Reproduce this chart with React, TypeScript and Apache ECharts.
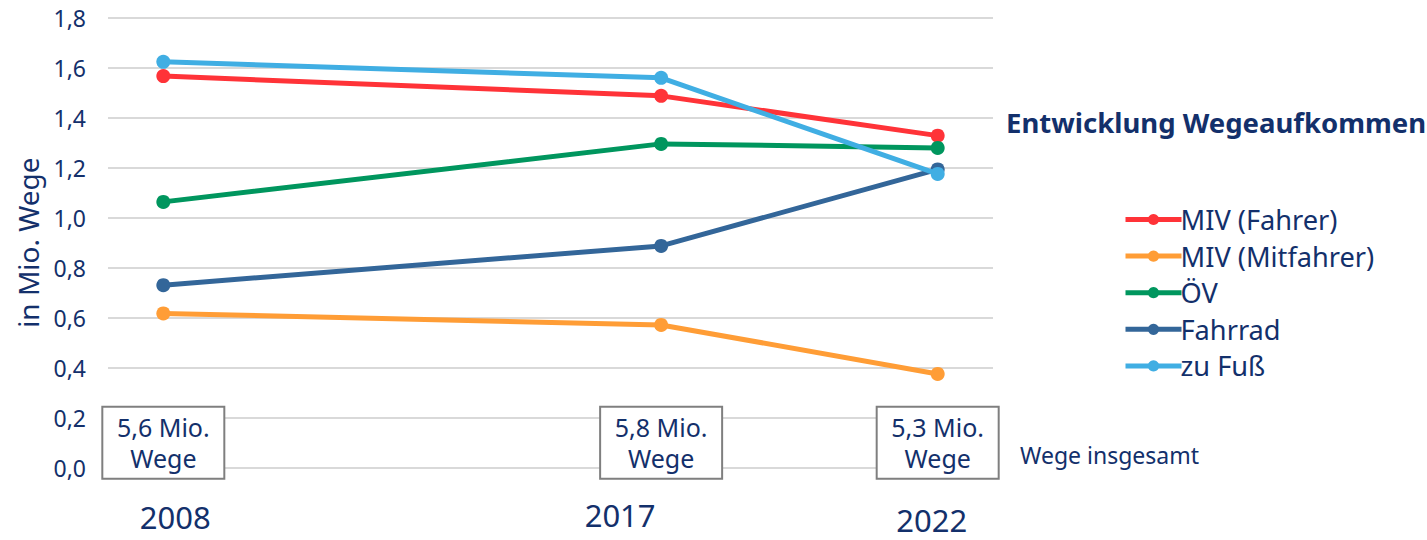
import React, { useEffect, useRef } from "react";
import * as echarts from "echarts";

const years = [2008, 2017, 2022];
const seriesNames = ["MIV (Fahrer)", "MIV (Mitfahrer)", "ÖV", "Fahrrad", "zu Fuß"];
const mivFahrer = [1.566, 1.487, 1.328];
const mivMitfahrer = [0.617, 0.571, 0.375];
const oev = [1.063, 1.295, 1.279];
const fahrrad = [0.730, 0.887, 1.193];
const zuFuss = [1.623, 1.559, 1.175];
const totals = ["5,6 Mio.\nWege", "5,8 Mio.\nWege", "5,3 Mio.\nWege"];
const yTicks = [0, 0.2, 0.4, 0.6, 0.8, 1.0, 1.2, 1.4, 1.6, 1.8];
const colors = ["#FF3338", "#FF9D36", "#00965E", "#336699", "#40AEE3"];

const NAVY = "#13306B";
const FONT = "Noto Sans";

export default function App() {
  const ref = useRef<HTMLDivElement>(null);
  useEffect(() => {
    if (!ref.current) return;
    const chart = echarts.init(ref.current, null, { renderer: "svg" });
    const values = [mivFahrer, mivMitfahrer, oev, fahrrad, zuFuss];
    const lineSeries = seriesNames.map((name, i) => ({
      name,
      type: "line",
      data: years.map((y, j) => [y, values[i][j]]),
      color: colors[i],
      lineStyle: { width: 5, color: colors[i] },
      itemStyle: { color: colors[i] },
      symbol: "circle",
      symbolSize: 14,
      showSymbol: true,
      z: 3 + i,
    }));
    const yearStyle = { fontSize: 31, color: NAVY, fontFamily: FONT, lineHeight: 36 };
    const yearRich: any = {
      y0: { ...yearStyle, padding: [5, 0, 0, 24] },
      y1: { ...yearStyle, padding: [0, 82, 0, 0] },
      y2: { ...yearStyle, padding: [11, 12, 0, 0] },
    };
    chart.setOption({
      animation: false,
      textStyle: { fontFamily: FONT },
      title: {
        text: "Entwicklung Wegeaufkommen",
        left: 1001,
        top: 103,
        textStyle: { fontSize: 27.5, fontWeight: "bold", color: NAVY, fontFamily: FONT },
      },
      legend: {
        data: seriesNames,
        orient: "vertical",
        left: 1118,
        top: 198,
        itemWidth: 56,
        itemHeight: 14,
        itemGap: 3.6,
        lineStyle: { width: 5 },
        textStyle: { fontSize: 27.2, color: NAVY, fontFamily: FONT, lineHeight: 33, padding: [0, 0, 0, -6] },
      },
      grid: { left: 108, right: 434, top: 17.6, bottom: 72.3, outerBoundsMode: "none", containLabel: false },
      xAxis: {
        type: "value",
        min: 2007,
        max: 2023,
        axisLine: { show: false },
        axisTick: { show: false },
        splitLine: { show: false },
        axisLabel: {
          customValues: years,
          margin: 29,
          formatter: (v: number) => {
            const i = years.indexOf(v);
            return i >= 0 ? `{y${i}|${v}}` : "";
          },
          rich: yearRich,
        },
      },
      yAxis: {
        type: "value",
        min: 0,
        max: 1.8,
        interval: 0.2,
        name: "in Mio. Wege",
        nameLocation: "middle",
        nameGap: 66,
        nameTextStyle: { fontSize: 28, color: NAVY, fontFamily: FONT },
        axisLine: { show: false },
        axisTick: { show: false },
        splitLine: { lineStyle: { color: "#D9D9D9", width: 2 } },
        axisLabel: {
          margin: 22,
          fontSize: 23,
          color: NAVY,
          fontFamily: FONT,
          formatter: (v: number) => {
            const t = yTicks.find((k) => Math.abs(k - v) < 1e-6);
            return (t ?? v).toFixed(1).replace(".", ",");
          },
        },
      },
      graphic: [
        {
          type: "text",
          left: 1020,
          top: 443,
          style: { text: "Wege insgesamt", fontSize: 23, fill: NAVY, fontFamily: FONT },
        },
      ],
      series: [
        ...lineSeries,
        {
          name: "totals",
          type: "scatter",
          data: years.map((y) => [y, 0.1]),
          symbolSize: 0,
          silent: true,
          z: 10,
          itemStyle: { color: "transparent", opacity: 1 },
          emphasis: { disabled: true },
          label: {
            show: true,
            position: "inside",
            formatter: (p: any) => totals[p.dataIndex],
            fontSize: 25,
            lineHeight: 31,
            color: NAVY,
            opacity: 1,
            fontFamily: FONT,
            textBorderWidth: 0,
            textBorderColor: "transparent",
            backgroundColor: "#FFFFFF",
            borderColor: "#7F7F7F",
            borderWidth: 2,
            width: 108,
            height: 62,
            padding: [4, 6, 4, 6],
            align: "center",
            verticalAlign: "middle",
          },
        },
      ],
    });
    return () => chart.dispose();
  }, []);
  return (
    <div
      ref={ref}
      style={{ position: "fixed", left: 0, top: 0, width: 1427, height: 540, background: "#fff" }}
    />
  );
}
